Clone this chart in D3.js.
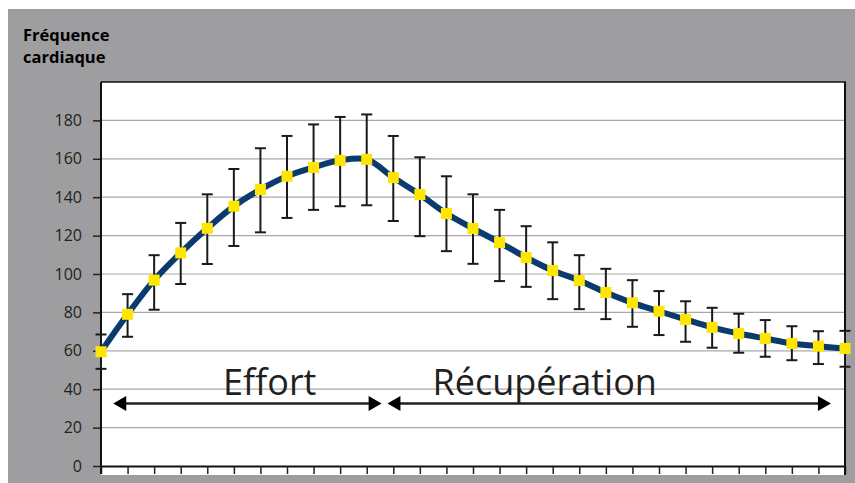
<!DOCTYPE html>
<html>
<head>
<meta charset="utf-8">
<script src="https://cdn.jsdelivr.net/npm/d3@7"></script>
<style>
	body { margin: 0; background: #fff; }
	svg { display: block; font-family: "Open Sans", sans-serif; }
</style>
</head>
<body>
<div id="chart-bg"></div>
<script>
var temps = [0, 1, 2, 3, 4, 5, 6, 7, 8, 9, 10, 11, 12, 13, 14, 15, 16, 17, 18, 19, 20, 21, 22, 23, 24, 25, 26, 27, 28];
var frequence = [59.5, 79, 96.8, 111, 123.8, 135.3, 144, 150.9, 155.5, 159.2, 159.7, 150.2, 141.4, 131.5, 123.7, 116.4, 108.6, 101.8, 96.6, 90.4, 85, 80.6, 76.3, 72.2, 69, 66.4, 63.8, 62.4, 61.2];
var haut = [68.5, 89.5, 109.8, 126.6, 141.5, 154.7, 165.5, 171.9, 177.9, 181.8, 183.1, 171.9, 160.8, 150.9, 141.5, 133.4, 124.9, 116.5, 109.8, 102.7, 96.8, 91.1, 85.8, 82.4, 79.3, 76, 72.8, 70.2, 70.4];
var bas = [50.6, 67.3, 81.4, 94.8, 105.2, 114.6, 121.7, 129.2, 133.4, 135.3, 135.8, 127.6, 119.7, 111.9, 105.3, 96.3, 93.3, 86.9, 81.7, 76.5, 72.5, 68.2, 64.7, 61.6, 59, 56.9, 55.1, 53.1, 51.7];
var yTicks = [0, 20, 40, 60, 80, 100, 120, 140, 160, 180];
var phases = ["Effort", "Récupération"];
// phase arrows, in category units (start, end), and label anchor
var phaseDebut = [0.46, 10.78];
var phaseFin = [10.56, 27.47];
var phaseTexteX = [6.35, 16.7];
var phaseTexteY = 36.9;
var phaseFlecheY = 32.6;

var W = 855, H = 483;
var gauche = 101, droite = 845, haut0 = 82, bas0 = 466;

var svg = d3.select("#chart-bg").append("svg")
	.attr("width", W)
	.attr("height", H);

// grey frame
svg.append("rect")
	.attr("x", 8).attr("y", 9)
	.attr("width", W - 8).attr("height", H - 9)
	.attr("fill", "#9e9ea0");

// white plot area
svg.append("rect")
	.attr("x", gauche).attr("y", haut0)
	.attr("width", droite - gauche).attr("height", 475 - haut0)
	.attr("fill", "#fff");

var x = d3.scalePoint().domain(temps).range([gauche, droite]);
var y = d3.scaleLinear().domain([0, 200]).range([bas0, haut0]);

// grid
svg.append("g")
	.selectAll("line")
	.data(yTicks.slice(1))
	.enter()
	.append("line")
	.attr("x1", gauche).attr("x2", droite)
	.attr("y1", function (d) { return y(d); })
	.attr("y2", function (d) { return y(d); })
	.attr("stroke", "#a8a8a8")
	.attr("stroke-width", 1.2);

// y axis
var yAxis = d3.axisLeft(y).tickValues(yTicks).tickSize(8).tickPadding(11);
var gy = svg.append("g")
	.attr("transform", "translate(" + gauche + ",0)")
	.call(yAxis);
gy.select(".domain").remove();
gy.selectAll(".tick line").attr("stroke", "#222").attr("stroke-width", 1.5);
gy.selectAll(".tick text")
	.attr("fill", "#231f20")
	.style("font-size", "16px")
	.style("font-family", "'Open Sans', sans-serif");

// x axis (ticks only)
var xAxis = d3.axisBottom(x).tickSize(8).tickSizeOuter(0).tickFormat("");
var gx = svg.append("g")
	.attr("transform", "translate(0," + bas0 + ")")
	.call(xAxis);
gx.select(".domain").attr("stroke", "#111").attr("stroke-width", 2);
gx.selectAll(".tick line").attr("stroke", "#222").attr("stroke-width", 1.5);

// plot border
svg.append("line")
	.attr("x1", gauche).attr("x2", gauche).attr("y1", haut0).attr("y2", 474)
	.attr("stroke", "#111").attr("stroke-width", 2);
svg.append("line")
	.attr("x1", gauche).attr("x2", droite + 1).attr("y1", haut0).attr("y2", haut0)
	.attr("stroke", "#111").attr("stroke-width", 1.5);
svg.append("line")
	.attr("x1", droite).attr("x2", droite).attr("y1", haut0).attr("y2", 475)
	.attr("stroke", "#111").attr("stroke-width", 2);

// error bars
var eb = svg.append("g").attr("stroke", "#1a1a1a").attr("stroke-width", 2);
temps.forEach(function (t, i) {
	var cx = x(t);
	eb.append("line").attr("x1", cx).attr("x2", cx).attr("y1", y(haut[i])).attr("y2", y(bas[i]));
	eb.append("line").attr("x1", cx - 5.5).attr("x2", cx + 5.5).attr("y1", y(haut[i])).attr("y2", y(haut[i]));
	eb.append("line").attr("x1", cx - 5.5).attr("x2", cx + 5.5).attr("y1", y(bas[i])).attr("y2", y(bas[i]));
});

// smoothed line
var ligne = d3.line()
	.x(function (d, i) { return x(temps[i]); })
	.y(function (d) { return y(d); })
	.curve(d3.curveCatmullRom.alpha(0.5));

svg.append("path")
	.datum(frequence)
	.attr("d", ligne)
	.attr("fill", "none")
	.attr("stroke", "#0b3a6f")
	.attr("stroke-width", 6);

// markers
svg.append("g")
	.selectAll("rect")
	.data(frequence)
	.enter()
	.append("rect")
	.attr("x", function (d, i) { return x(temps[i]) - 5.5; })
	.attr("y", function (d) { return y(d) - 5.5; })
	.attr("width", 11)
	.attr("height", 11)
	.attr("fill", "#ffe600");

// phase arrows and labels
var step = x.step();
function px(u) { return gauche + u * step; }

phases.forEach(function (nom, i) {
	var x1 = px(phaseDebut[i]), x2 = px(phaseFin[i]), ay = y(phaseFlecheY);
	svg.append("line")
		.attr("x1", x1 + 10).attr("x2", x2 - 10)
		.attr("y1", ay).attr("y2", ay)
		.attr("stroke", "#231f20").attr("stroke-width", 2.5);
	svg.append("path")
		.attr("d", "M" + x1 + "," + ay + "L" + (x1 + 13) + "," + (ay - 7.5) + "L" + (x1 + 13) + "," + (ay + 7.5) + "Z")
		.attr("fill", "#000");
	svg.append("path")
		.attr("d", "M" + x2 + "," + ay + "L" + (x2 - 13) + "," + (ay - 7.5) + "L" + (x2 - 13) + "," + (ay + 7.5) + "Z")
		.attr("fill", "#000");
	svg.append("text")
		.text(nom)
		.attr("x", px(phaseTexteX[i]))
		.attr("y", y(phaseTexteY))
		.attr("text-anchor", "middle")
		.attr("fill", "#231f20")
		.style("font-size", "36px");
});

// axis title
var titre = svg.append("text")
	.attr("x", 23)
	.attr("fill", "#000")
	.style("font-weight", "bold")
	.style("font-size", "16.5px");
titre.append("tspan").attr("x", 23).attr("y", 41).text("Fréquence");
titre.append("tspan").attr("x", 23).attr("y", 63).text("cardiaque");
</script>
</body>
</html>
